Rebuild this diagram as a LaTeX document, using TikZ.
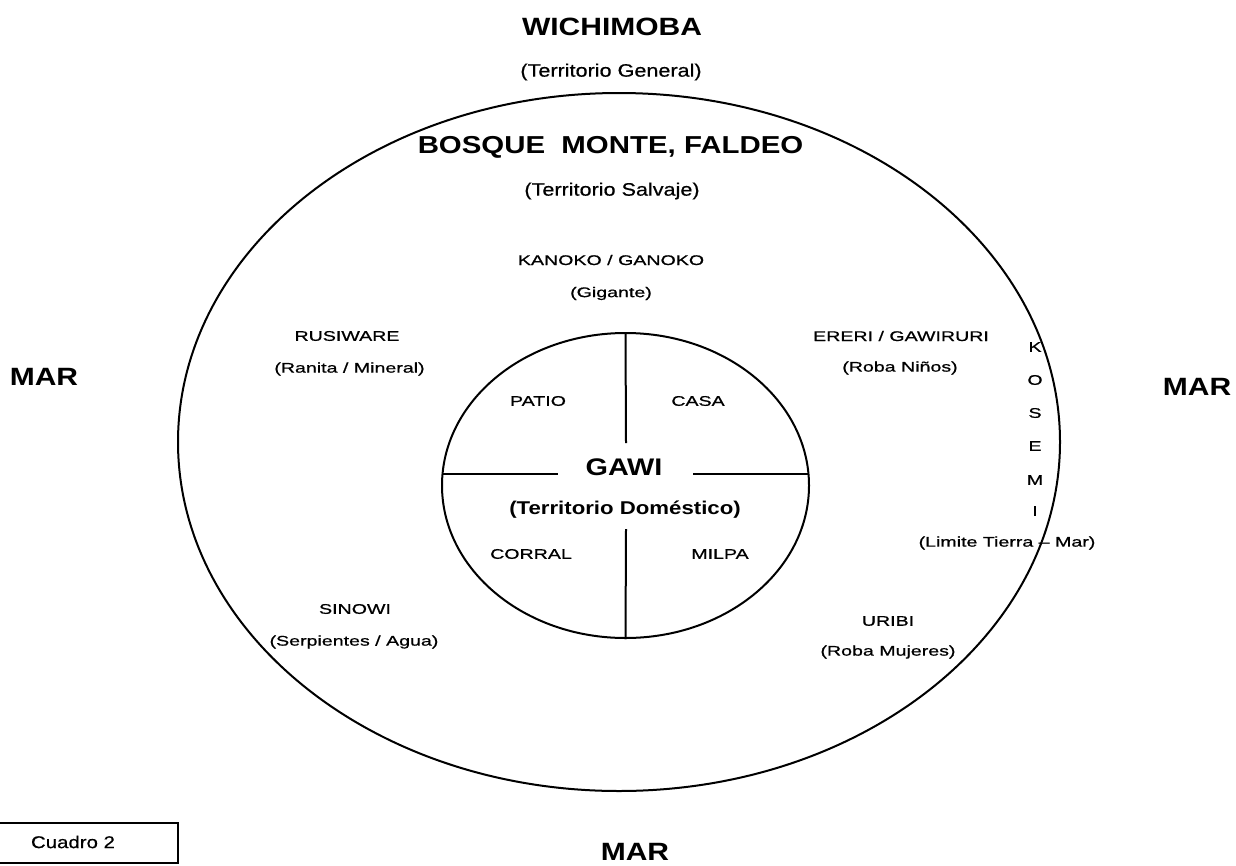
\documentclass[tikz,border=0pt]{standalone}
\usepackage{fontspec}
\setmainfont[FakeStretch=1.2]{Liberation Sans}
\newfontfamily\smallf[FakeStretch=1.4,FakeBold=0.8]{Liberation Sans}
\newfontfamily\midf[FakeStretch=1.2,FakeBold=0.6]{Liberation Sans}
\usetikzlibrary{shapes.geometric}
\begin{document}
\begin{tikzpicture}[x=1pt,y=-1pt,
  bigt/.style={inner sep=0pt,font=\bfseries\fontsize{25}{30}\selectfont},
  midt/.style={inner sep=0pt,font=\midf\fontsize{18}{22}\selectfont},
  midb/.style={inner sep=0pt,font=\bfseries\fontsize{18.5}{22}\selectfont},
  smallt/.style={inner sep=0pt,font=\smallf\fontsize{14}{17}\selectfont},
  ring/.style={draw,ellipse,line width=2pt,inner sep=0pt},
  divider/.style={line width=2pt}]
\useasboundingbox (0,0) rectangle (1236,865);
% ellipses
\node[ring,minimum width=882pt,minimum height=698pt] (outer) at (619,442) {};
\node[ring,minimum width=367pt,minimum height=305pt] (inner) at (625.5,485.5) {};
% dividers
\coordinate (vtop) at (626,443);
\coordinate (vbot) at (626,529);
\coordinate (hleft) at (558,474);
\coordinate (hright) at (693,474);
\coordinate (iw) at (442,474);
\coordinate (ie) at (809,474);
\draw[divider] (inner.north) -- (vtop);
\draw[divider] (vbot) -- (inner.south);
\draw[divider] (iw) -- (hleft);
\draw[divider] (hright) -- (ie);
% top labels
\node[bigt] (wich) at (612,27) {WICHIMOBA};
\node[midt] (wichs) at (611,72) {(Territorio General)};
\node[bigt,font=\bfseries\fontsize{24.5}{30}\selectfont] (bosque) at (610.5,147) {BOSQUE\ \ MONTE, FALDEO};
\node[midt] (bosques) at (612,191) {(Territorio Salvaje)};
% wild beings
\node[smallt] (kanoko) at (611,260) {KANOKO / GANOKO};
\node[smallt] (kanokos) at (611,293.5) {(Gigante)};
\node[smallt] (rusi) at (347,336) {RUSIWARE};
\node[smallt] (rusis) at (349.5,369) {(Ranita / Mineral)};
\node[smallt] (ereri) at (901,336) {ERERI / GAWIRURI};
\node[smallt] (ereris) at (900,368) {(Roba Niños)};
\node[smallt] (sinowi) at (355,609) {SINOWI};
\node[smallt] (sinowis) at (354,642) {(Serpientes / Agua)};
\node[smallt] (uribi) at (888,621) {URIBI};
\node[smallt] (uribis) at (888,652) {(Roba Mujeres)};
% KOSEMI vertical
\node[smallt] (k1) at (1035,347) {K};
\node[smallt] (k2) at (1035,380) {O};
\node[smallt] (k3) at (1035,413) {S};
\node[smallt] (k4) at (1035,446) {E};
\node[smallt] (k5) at (1035,480) {M};
\node[smallt] (k6) at (1035,511) {I};
\node[smallt] (kosemis) at (1007,543) {(Limite Tierra – Mar)};
% domestic
\node[smallt] (patio) at (538,401) {PATIO};
\node[smallt] (casa) at (698,401) {CASA};
\node[smallt] (corral) at (531,554) {CORRAL};
\node[smallt] (milpa) at (720,554) {MILPA};
\node[bigt,font=\bfseries\fontsize{24}{30}\selectfont] (gawi) at (624,467) {GAWI};
\node[midb] (gawis) at (625,510) {(Territorio Doméstico)};
% sea
\node[bigt] (marl) at (44,377) {MAR};
\node[bigt] (marr) at (1197,387) {MAR};
\node[bigt] (marb) at (635,852) {MAR};
% caption box
\draw[line width=1.4pt] (-2,823) rectangle (178,863);
\node[inner sep=0pt,font=\midf\fontsize{17}{20}\selectfont] (cuadro) at (73,842) {Cuadro 2};
\end{tikzpicture}
\end{document}
